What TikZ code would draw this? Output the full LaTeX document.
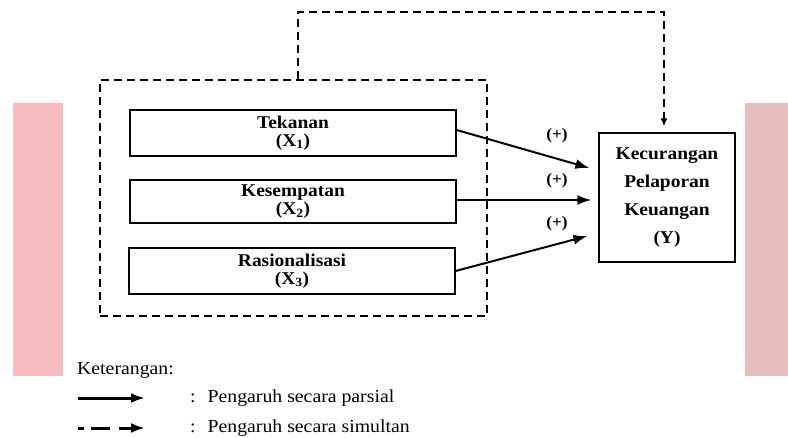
\documentclass[tikz,border=0pt]{standalone}
\usepackage{fontspec}
\setmainfont{Liberation Serif}[FakeStretch=1.08]
\usetikzlibrary{arrows.meta,positioning}

\definecolor{pinkkiri}{RGB}{247,188,192}
\definecolor{pinkkanan}{RGB}{231,190,190}

\tikzset{
  varbox/.style={draw, line width=1.2pt, minimum width=326pt, inner sep=0pt,
    align=center, font=\bfseries\fontsize{18}{18}\selectfont},
  ybox/.style={draw, line width=1.2pt, minimum width=136pt, minimum height=129pt,
    inner sep=0pt, align=center, font=\bfseries\fontsize{18}{27.7}\selectfont},
  grupbox/.style={draw, line width=2.2pt, dash pattern=on 8pt off 5pt,
    minimum width=387pt, minimum height=236pt, inner sep=0pt},
  parsial/.style={line width=2pt, -{Latex[length=14pt,width=10pt]}},
  simultan/.style={line width=2.2pt, dash pattern=on 8pt off 5pt, -{Latex[length=8pt,width=7pt]}},
  tanda/.style={font=\bfseries\fontsize{16}{16}\selectfont, inner sep=0pt},
  teks/.style={anchor=west, inner sep=0pt, font=\fontsize{18.3}{18.3}\selectfont}
}

\begin{document}
\begin{tikzpicture}[x=1pt,y=-1pt]
  \useasboundingbox (0,0) rectangle (788,437);

  % latar merah muda
  \fill[pinkkiri] (13,103) rectangle (63,376);
  \fill[pinkkanan] (745,103) rectangle (788,376);

  % variabel
  \node[grupbox] (grup) at (293.5,198) {};
  \node[varbox, minimum height=46pt] (tekanan) at (293,133) {Tekanan\\(X\textsubscript{1})};
  \node[varbox, minimum height=43pt] (kesempatan) at (293,201.5) {Kesempatan\\(X\textsubscript{2})};
  \node[varbox, minimum height=46pt] (rasionalisasi) at (292,271) {Rasionalisasi\\(X\textsubscript{3})};
  \node[ybox] (kecurangan) at (667,197.5) {Kecurangan\\Pelaporan\\Keuangan\\(Y)};

  % pengaruh parsial
  \draw[parsial] ([yshift=3pt]tekanan.east) -- ([xshift=-9pt,yshift=29.5pt]kecurangan.west);
  \draw[parsial] ([yshift=1.5pt]kesempatan.east) -- ([xshift=-7pt,yshift=-2.5pt]kecurangan.west);
  \draw[parsial] (rasionalisasi.east) -- ([xshift=-11pt,yshift=-38.5pt]kecurangan.west);
  \node[tanda] (plus1) at (557,136) {(+)};
  \node[tanda] (plus2) at (557,181) {(+)};
  \node[tanda] (plus3) at (557,224) {(+)};

  % pengaruh simultan
  \draw[simultan] ([xshift=4.5pt]grup.north) -- ++(0,-67) -| ([xshift=-3pt,yshift=6pt]kecurangan.north);

  % keterangan
  \node[teks] (ket) at (77,370) {Keterangan:};
  \coordinate (p1) at (78,398);
  \coordinate (p2) at (145,398);
  \coordinate (s1) at (78,428);
  \coordinate (s2) at (145,428);
  \draw[line width=3pt, -{Latex[length=14pt,width=10pt]}] (p1) -- (p2);
  \draw[line width=3pt, dash pattern=on 6pt off 7pt on 19pt off 9pt on 40pt,
    -{Latex[length=14pt,width=10pt]}] (s1) -- (s2);
  \node[teks] (ketp) at (190,398) {:\hspace{12pt}Pengaruh secara parsial};
  \node[teks] (kets) at (190,428) {:\hspace{12pt}Pengaruh secara simultan};
\end{tikzpicture}
\end{document}
